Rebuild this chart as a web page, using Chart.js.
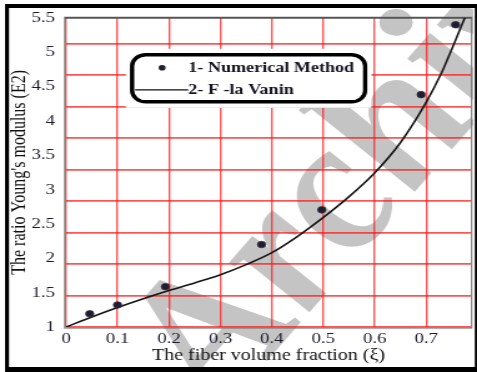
<!DOCTYPE html>
<html>
<head>
<meta charset="utf-8">
<script src="https://cdn.jsdelivr.net/npm/chart.js@4/dist/chart.umd.min.js"></script>
<style>
  html, body { margin: 0; padding: 0; background: #fff; overflow: hidden; }
  canvas { display: block; }
</style>
</head>
<body>
<canvas id="chart" width="382" height="372" style="width:477px;height:372px"></canvas>
<script>
// Series names
const seriesNames = ['1- Numerical Method', '2- F -la Vanin'];

// Numerical method results (fiber volume fraction, E2 ratio)
const numericalX = [0.046, 0.1, 0.193, 0.38, 0.497, 0.69, 0.757];
const numericalY = [1.21, 1.35, 1.64, 2.31, 2.86, 4.69, 5.80];

// Vanin formula curve
const vaninX = [0, 0.05, 0.1, 0.15, 0.2, 0.25, 0.3, 0.35, 0.4, 0.45, 0.5, 0.55, 0.6, 0.65, 0.7, 0.73, 0.75, 0.775];
const vaninY = [1.0, 1.16, 1.31, 1.45, 1.58, 1.70, 1.83, 1.99, 2.18, 2.44, 2.74, 3.07, 3.45, 3.93, 4.57, 5.04, 5.42, 5.91];

// Axis ticks
const xTicks = [0, 0.1, 0.2, 0.3, 0.4, 0.5, 0.6, 0.7];
const xTickLabels = ['0', '0.1', '0.2', '0.3', '0.4', '0.5', '0.6', '0.7'];
const yTicks = [1, 1.5, 2, 2.5, 3, 3.5, 4, 4.5, 5, 5.5];
const yTickLabels = ['1', '1.5', '2', '2.5', '3', '3.5', '4', '4.5', '5', '5.5'];

const xTitle = 'The fiber volume fraction (\u03BE)';
const yTitle = "The ratio Young's modulus (E2)";

const SERIF = '"Liberation Serif", "Times New Roman", serif';
const GRID_RED = 'rgba(255, 20, 20, 0.72)';
const TEXT_COLOR = '#1b1b2c';

const toPoints = (xs, ys) => xs.map((x, i) => ({ x: x, y: ys[i] }));

// Grey diagonal watermark behind the plot
const watermark = {
  id: 'watermark',
  beforeDraw(chart) {
    const ctx = chart.ctx;
    ctx.save();
    ctx.beginPath();
    ctx.rect(7, 8, chart.width - 10, chart.height - 13);
    ctx.clip();
    ctx.translate(178, 412);
    ctx.rotate(-55 * Math.PI / 180);
    ctx.font = 'bold italic 177px ' + SERIF;
    ctx.fillStyle = '#c4c4c4';
    ctx.textBaseline = 'alphabetic';
    ctx.fillText('Archive of SID', 0, 0);
    ctx.restore();
  }
};

// Plot frame and outer black border
const frames = {
  id: 'frames',
  beforeDatasetsDraw(chart) {
    const ctx = chart.ctx;
    const a = chart.chartArea;
    ctx.save();
    ctx.strokeStyle = '#7a7a7a';
    ctx.lineWidth = 1.2;
    ctx.strokeRect(a.left - 1, a.top - 0.5, a.right - a.left + 1.5, a.bottom - a.top + 1.5);
    ctx.strokeStyle = '#555';
    ctx.lineWidth = 1.8;
    ctx.beginPath();
    ctx.moveTo(a.left - 1, a.top);
    ctx.lineTo(a.right + 0.5, a.top);
    ctx.stroke();
    ctx.restore();
  },
  afterDraw(chart) {
    const ctx = chart.ctx;
    const w = chart.width, h = chart.height;
    ctx.save();
    ctx.fillStyle = '#000';
    ctx.fillRect(4, 4, 3.2, h - 4);
    ctx.fillRect(4, 4, w - 4, 4);
    ctx.fillRect(w - 1.8, 4, 1.8, h - 4);
    ctx.fillRect(4, h - 5, w - 4, 5);
    ctx.restore();
  }
};

// Rounded legend box inside the plot
const legendBox = {
  id: 'legendBox',
  afterDatasetsDraw(chart) {
    const ctx = chart.ctx;
    const a = chart.chartArea;
    const bx = a.left + 52.9, by = a.top + 37, bw = 186.6, bh = 47;
    ctx.save();
    ctx.fillStyle = '#fff';
    ctx.fillRect(bx - 5, by - 6, bw + 10, bh + 12);
    ctx.beginPath();
    ctx.roundRect(bx, by, bw, bh, 11);
    ctx.lineWidth = 3.4;
    ctx.strokeStyle = '#000';
    ctx.stroke();

    // marker entry
    ctx.fillStyle = '#202030';
    ctx.beginPath();
    ctx.arc(bx + 24, by + 13, 2.8, 0, Math.PI * 2);
    ctx.fill();
    // line entry
    ctx.strokeStyle = '#111';
    ctx.lineWidth = 1.3;
    ctx.beginPath();
    ctx.moveTo(bx + 2.4, by + 35);
    ctx.lineTo(bx + 45, by + 35);
    ctx.stroke();

    ctx.font = 'bold 14.5px ' + SERIF;
    ctx.fillStyle = '#151520';
    ctx.textBaseline = 'middle';
    ctx.textAlign = 'left';
    ctx.fillText(seriesNames[0], bx + 45, by + 13);
    ctx.fillText(seriesNames[1], bx + 45, by + 35);
    ctx.restore();
  }
};

new Chart(document.getElementById('chart'), {
  type: 'scatter',
  data: {
    datasets: [
      {
        label: seriesNames[0],
        data: toPoints(numericalX, numericalY),
        showLine: false,
        pointRadius: 3.3,
        pointBackgroundColor: '#1e1e30',
        pointBorderColor: '#3a3040',
        pointBorderWidth: 0.8,
        yAxisID: 'y'
      },
      {
        label: seriesNames[1],
        data: toPoints(vaninX, vaninY),
        showLine: true,
        pointRadius: 0,
        borderColor: '#151515',
        borderWidth: 1.6,
        cubicInterpolationMode: 'monotone',
        yAxisID: 'y'
      }
    ]
  },
  options: {
    responsive: false,
    animation: false,
    events: [],
    layout: { padding: { left: 0, top: 16, right: 3.2, bottom: 0 } },
    plugins: {
      legend: { display: false },
      tooltip: { enabled: false }
    },
    scales: {
      x: {
        type: 'linear',
        min: 0,
        max: 0.787,
        afterBuildTicks: s => { s.ticks = xTicks.map(v => ({ value: v })); },
        afterFit: s => { s.height = 45; },
        ticks: {
          padding: 3,
          color: TEXT_COLOR,
          font: { family: SERIF, size: 15 },
          callback: (v) => xTickLabels[xTicks.indexOf(v)] ?? ''
        },
        grid: { color: GRID_RED, lineWidth: 1.4, drawTicks: false },
        border: { display: false },
        title: {
          display: true,
          text: xTitle,
          color: '#111',
          font: { family: SERIF, size: 16 },
          padding: { top: 0, bottom: 6.4 }
        }
      },
      yLab: {
        type: 'linear',
        position: 'left',
        min: 1,
        max: 5.5,
        afterBuildTicks: s => { s.ticks = yTicks.map(v => ({ value: v })); },
        afterFit: s => { s.width = 52.9; },
        ticks: {
          padding: 8.8,
          color: TEXT_COLOR,
          font: { family: SERIF, size: 15 },
          callback: (v) => yTickLabels[yTicks.indexOf(v)] ?? ''
        },
        grid: { display: false, drawTicks: false },
        border: { display: false },
        title: {
          display: true,
          text: yTitle,
          color: '#111',
          font: { family: SERIF, size: 16 },
          padding: { top: 6.4, bottom: 0 }
        }
      },
      y: {
        type: 'linear',
        position: 'left',
        min: 1,
        max: 5.91,
        afterBuildTicks: s => { s.ticks = yTicks.map(v => ({ value: v })); },
        afterFit: s => { s.width = 0; },
        ticks: { display: false },
        grid: { color: GRID_RED, lineWidth: 1.7, drawTicks: false },
        border: { display: false }
      }
    }
  },
  plugins: [watermark, frames, legendBox]
});
</script>
</body>
</html>
